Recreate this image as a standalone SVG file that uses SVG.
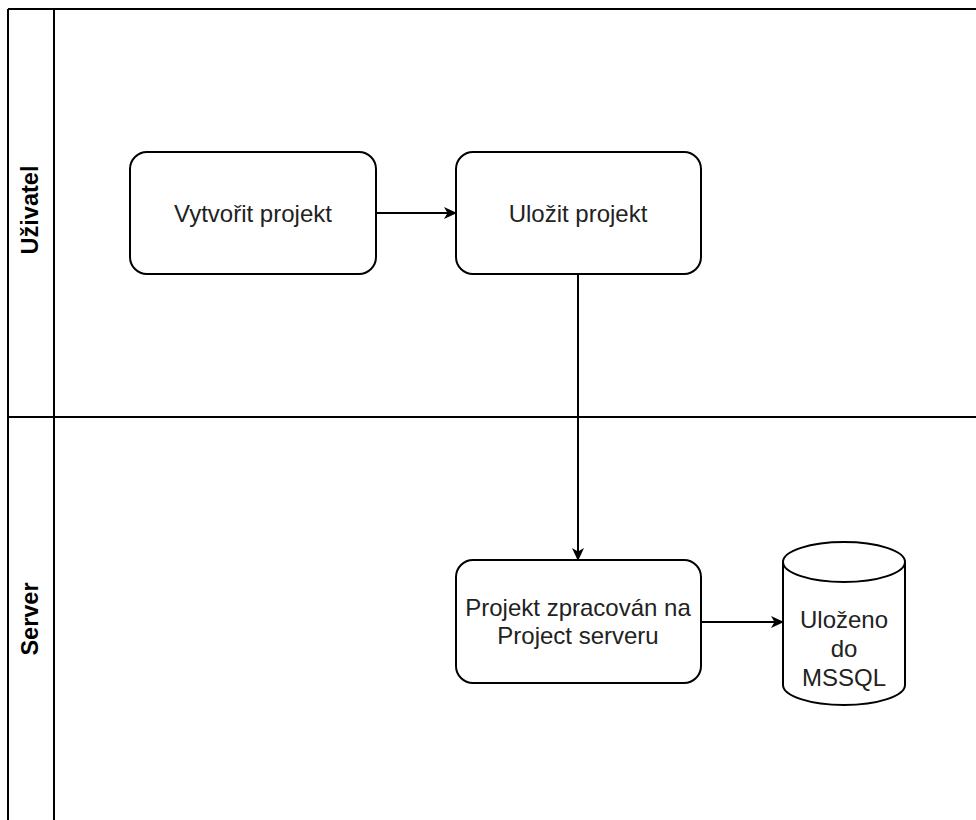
<svg xmlns="http://www.w3.org/2000/svg" width="976" height="820" viewBox="0 0 976 820">
<defs>
<style>
.ln{stroke:#000;stroke-width:2;fill:none}
.box{fill:#fff;stroke:#000;stroke-width:2}
.t{font-family:"Liberation Sans",Arial,sans-serif;font-size:24px;fill:#222;text-anchor:middle}
.lane{font-family:"Liberation Sans",Arial,sans-serif;font-size:23.5px;font-weight:bold;fill:#000;text-anchor:middle}
.edge{stroke:#000;stroke-width:2;fill:none}
</style>
<marker id="ah" markerWidth="13" markerHeight="13" refX="12" refY="6.5" orient="auto" markerUnits="userSpaceOnUse" viewBox="0 0 13 13">
<path d="M0,0.5 L13,6.5 L0,12.5 L3.5,6.5 Z" fill="#000"/>
</marker>
</defs>
<rect width="976" height="820" fill="#fff"/>
<g id="pool">
<line class="ln" x1="8" y1="9" x2="976" y2="9"/>
<line class="ln" x1="8" y1="9" x2="8" y2="820"/>
<line class="ln" x1="54" y1="9" x2="54" y2="820"/>
<line class="ln" x1="8" y1="417" x2="976" y2="417"/>
</g>
<g id="lane-uzivatel"><text class="lane" transform="translate(38,210) rotate(-90)">Uživatel</text></g>
<g id="lane-server"><text class="lane" transform="translate(38,619) rotate(-90)">Server</text></g>
<g id="connectors">
<line class="edge" x1="376" y1="213" x2="456" y2="213" marker-end="url(#ah)"/>
<line class="edge" x1="578" y1="274" x2="578" y2="560" marker-end="url(#ah)"/>
<line class="edge" x1="701" y1="622" x2="783" y2="622" marker-end="url(#ah)"/>
</g>
<g id="vytvorit">
<rect class="box" x="130" y="152" width="246" height="122" rx="17"/>
<text class="t" x="253" y="222">Vytvořit projekt</text>
</g>
<g id="ulozit">
<rect class="box" x="456" y="152" width="245" height="122" rx="17"/>
<text class="t" x="578" y="222">Uložit projekt</text>
</g>
<g id="zpracovan">
<rect class="box" x="456" y="560" width="245" height="123" rx="17"/>
<text class="t" x="578" y="616">Projekt zpracován na</text>
<text class="t" x="578" y="644">Project serveru</text>
</g>
<g id="mssql">
<path class="box" d="M783,562 A61,20 0 0 1 905,562 V685 A61,20 0 0 1 783,685 Z"/>
<path class="ln" d="M783,562 A61,20 0 0 0 905,562"/>
<text class="t" x="844" y="628">Uloženo</text>
<text class="t" x="844" y="657">do</text>
<text class="t" x="844" y="686">MSSQL</text>
</g>
</svg>
